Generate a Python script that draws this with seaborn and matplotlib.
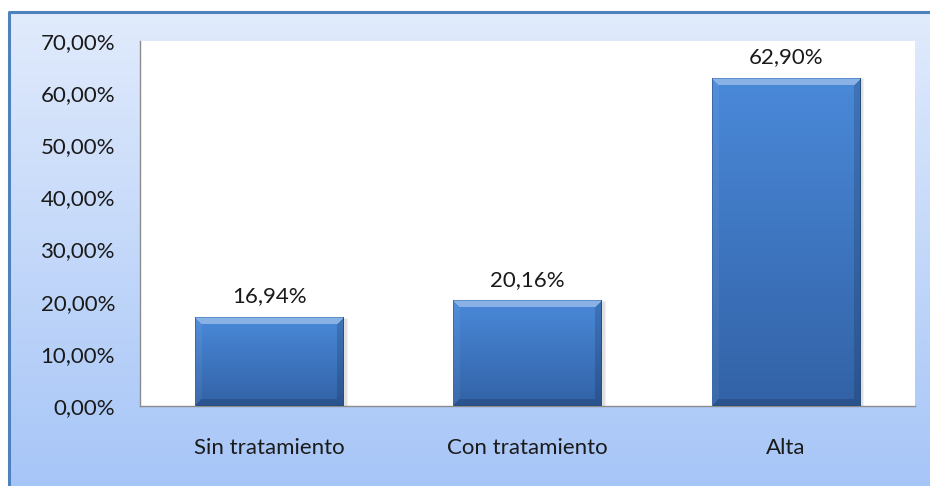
import numpy as np
import pandas as pd
import matplotlib
matplotlib.use('Agg')
import matplotlib.pyplot as plt
import matplotlib.colors as mcolors
from matplotlib.ticker import FuncFormatter, MultipleLocator
import seaborn as sns

categorias = ['Sin tratamiento', 'Con tratamiento', 'Alta']
porcentajes = [16.94, 20.16, 62.90]

df = pd.DataFrame({'Estado': categorias, 'Porcentaje': porcentajes})

sns.set_style('white')
plt.rcParams['font.family'] = ['Lato', 'DejaVu Sans']

W, H = 930, 486
fig = plt.figure(figsize=(W / 100, H / 100), dpi=100)

# fondo degradado con borde azul
bg = fig.add_axes([0, 0, 1, 1], zorder=0)
bg.set_xlim(0, W)
bg.set_ylim(H, 0)
bg.axis('off')
top = np.array(mcolors.to_rgb('#e1ebfc'))
bot = np.array(mcolors.to_rgb('#a6c5f7'))
t = np.linspace(0, 1, 200)[:, None]
grad = (top * (1 - t) + bot * t)[:, None, :]
bg.imshow(grad, extent=(9, W + 5, H + 5, 12), aspect='auto')
bg.plot([9, 9, W + 5], [H + 5, 12, 12], color='#4f81bd', lw=2.2, solid_capstyle='butt')

ax = fig.add_axes([140 / W, (H - 406) / H, (915 - 140) / W, (406 - 41) / H], zorder=1)
ax.set_facecolor('white')
sns.barplot(data=df, x='Estado', y='Porcentaje', color='#3f7ac8', width=0.575,
            saturation=1, ax=ax, zorder=2)
ax.set_ylim(0, 70)
ax.set_xlim(-0.5, 2.5)
ax.yaxis.set_major_locator(MultipleLocator(10))
ax.yaxis.set_major_formatter(FuncFormatter(lambda v, p: f'{v:.2f}%'.replace('.', ',')))
ax.set_xlabel('')
ax.set_ylabel('')
ax.tick_params(axis='y', length=0, pad=18, labelsize=16, labelcolor='#1a1a1a')
ax.tick_params(axis='x', length=0, pad=23, labelsize=16, labelcolor='#1a1a1a')
for s in ['top', 'right']:
    ax.spines[s].set_visible(False)
for s in ['left', 'bottom']:
    ax.spines[s].set_color('#8c8c8c')
    ax.spines[s].set_linewidth(1)

ax.bar_label(ax.containers[0], labels=[f'{v:.2f}%'.replace('.', ',') for v in porcentajes],
             padding=8, fontsize=16, color='#1a1a1a')

# relleno con bisel estilo Excel
fig.canvas.draw()
c_top = np.array(mcolors.to_rgb('#4a89d9'))
c_bot = np.array(mcolors.to_rgb('#3262a6'))
b = 7
for patch in ax.patches:
    bb = patch.get_window_extent()
    w, h = int(round(bb.width)), int(round(bb.height))
    yy, xx = np.mgrid[0:h, 0:w]
    tt = (yy / max(h - 1, 1))[..., None]
    img = c_top * (1 - tt) + c_bot * tt
    d_top, d_bot = yy, h - 1 - yy
    d_left, d_right = xx, w - 1 - xx
    d = np.stack([d_top, d_bot, d_left, d_right])
    nearest = d.argmin(axis=0)
    edge = d.min(axis=0) < b
    fac = np.array([0.35, -0.15, 0.05, -0.15])[nearest]
    fac = np.where(edge, fac, 0)[..., None]
    img = np.where(fac > 0, img + (1 - img) * fac, img * (1 + fac))
    img[0, :] = mcolors.to_rgb('#5d8fcf')
    img[-1, :] = mcolors.to_rgb('#27507f')
    img[:, 0] = mcolors.to_rgb('#3a6aa8')
    img[:, -1] = mcolors.to_rgb('#27507f')
    x0, y0 = patch.get_x(), patch.get_y()
    x1, y1 = x0 + patch.get_width(), y0 + patch.get_height()
    # sombra
    ax.bar(x0 + patch.get_width() / 2 + 0.012, patch.get_height(), width=patch.get_width(),
           bottom=0, color='#000000', alpha=0.12, zorder=1.5)
    ax.imshow(np.clip(img, 0, 1), extent=(x0, x1, y0, y1), aspect='auto', zorder=3,
              interpolation='nearest')
    patch.set_visible(False)

ax.set_ylim(0, 70)
ax.set_xlim(-0.5, 2.5)

fig.savefig('out.png', dpi=100, facecolor='white')
